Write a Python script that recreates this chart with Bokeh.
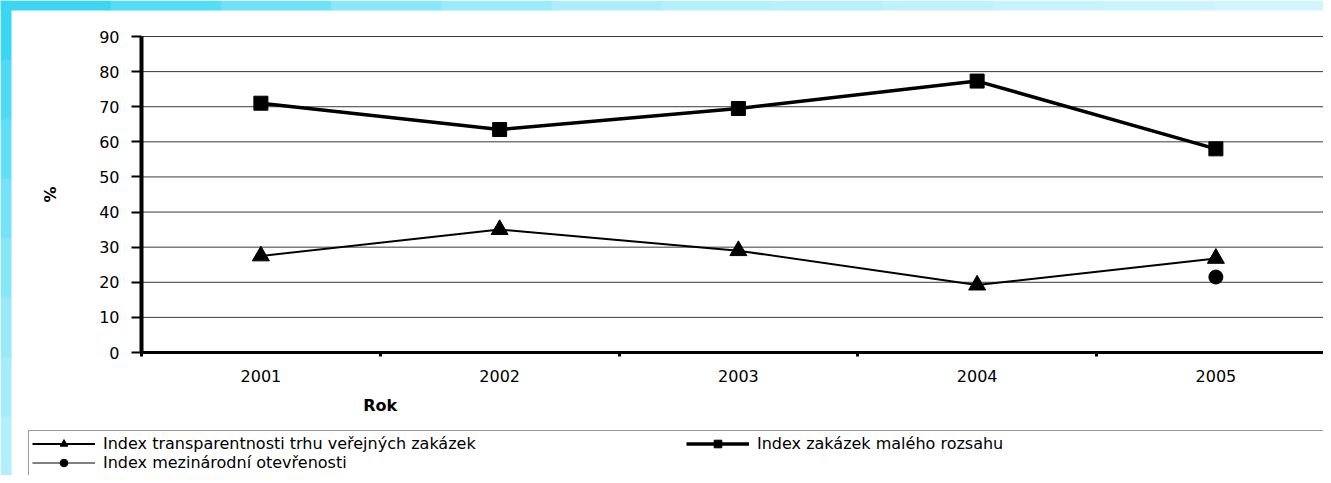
from bokeh.plotting import figure
from bokeh.models import Range1d, FixedTicker, Legend, LegendItem, Label, BoxAnnotation
from bokeh.embed import file_html
from bokeh.resources import INLINE

# ---- data ----
years = [2001, 2002, 2003, 2004, 2005]
transparency = [27.5, 35.0, 29.0, 19.2, 26.8]
small_contracts = [71.0, 63.5, 69.5, 77.3, 58.0]
openness_years = [2005]
openness = [21.5]
y_ticks = [0, 10, 20, 30, 40, 50, 60, 70, 80, 90]
series_names = [
    "Index transparentnosti trhu veřejných zakázek",
    "Index zakázek malého rozsahu",
    "Index mezinárodní otevřenosti",
]
x_title = "Rok"
y_title = "%"

# ---- layout (pixels) ----
W, H = 1323, 475
PLOT_LEFT, PLOT_TOP, PLOT_BOTTOM = 141, 36, 352
PX_PER_YEAR = 238.75
FONT = "DejaVu Sans"
FS = "16px"

# background frame strips (decoration colours, light cyan gradient)
top_strip_colors = ["#3ad6f3", "#55dcf6", "#70e2f8", "#8ae7fa", "#9cebfb", "#acedfb",
                    "#b4f0fc", "#b8f1fc", "#bff2fc", "#c6f3fd", "#ccf4fd", "#d2f5fd"]
left_strip_colors = ["#3ad6f3", "#4fdaf5", "#63def7", "#76e2f8", "#88e6f9", "#98e9fa",
                     "#a5ecfb", "#b0effc"]

y_min_v, y_max_v = y_ticks[0], y_ticks[-1]
px_per_unit = (PLOT_BOTTOM - PLOT_TOP) / (y_max_v - y_min_v)
x0 = years[0] - 0.5
x_start = x0 - PLOT_LEFT / PX_PER_YEAR
x_end = x0 + (W - PLOT_LEFT) / PX_PER_YEAR
y_start = y_min_v - (H - PLOT_BOTTOM) / px_per_unit
y_end = y_max_v + PLOT_TOP / px_per_unit
boundaries = [y - 0.5 for y in years] + [years[-1] + 0.5]

p = figure(width=W, height=H, output_backend="svg", toolbar_location=None,
           x_range=Range1d(x_start, x_end), y_range=Range1d(y_start, y_end),
           min_border=0)
p.background_fill_color = "white"
p.border_fill_color = "white"
p.outline_line_color = None
p.xgrid.visible = False
p.ygrid.visible = False

# cyan strips along the top and left edges
STRIP_TOP, STRIP_LEFT = 10, 11
n = len(top_strip_colors)
for i, c in enumerate(top_strip_colors):
    p.add_layout(BoxAnnotation(left=W * i / n, right=W * (i + 1) / n + 1,
                               bottom=H - STRIP_TOP, top=H,
                               left_units="screen", right_units="screen",
                               bottom_units="screen", top_units="screen",
                               fill_color=c, fill_alpha=1.0, line_color=None,
                               level="underlay"))
m = len(left_strip_colors)
for i, c in enumerate(left_strip_colors):
    p.add_layout(BoxAnnotation(left=0, right=STRIP_LEFT,
                               bottom=H - H * (i + 1) / m - 1, top=H - H * i / m,
                               left_units="screen", right_units="screen",
                               bottom_units="screen", top_units="screen",
                               fill_color=c, fill_alpha=1.0, line_color=None,
                               level="underlay"))

# horizontal gridlines restricted to the plot area
p.segment(x0=[x0] * len(y_ticks), y0=y_ticks, x1=[x_end] * len(y_ticks), y1=y_ticks,
          line_color="#3a3a3a", line_width=1)

# y axis
p.yaxis.fixed_location = x0
p.yaxis.bounds = (y_min_v, y_max_v)
p.yaxis.ticker = FixedTicker(ticks=y_ticks)
p.yaxis.axis_line_width = 4
p.yaxis.axis_line_color = "black"
p.yaxis.major_tick_out = 10
p.yaxis.major_tick_in = 0
p.yaxis.major_tick_line_width = 2
p.yaxis.minor_tick_line_color = None
p.yaxis.major_label_standoff = 12
p.yaxis.major_label_text_font = FONT
p.yaxis.major_label_text_font_size = FS
p.yaxis.major_label_text_color = "black"
p.yaxis.axis_label = y_title
p.yaxis.axis_label_text_font = FONT
p.yaxis.axis_label_text_font_style = "bold"
p.yaxis.axis_label_text_font_size = FS
p.yaxis.axis_label_text_color = "black"
p.yaxis.axis_label_standoff = 36

# x axis
p.xaxis.fixed_location = y_min_v
p.xaxis.bounds = (x0, x_end)
p.xaxis.ticker = FixedTicker(ticks=years, minor_ticks=boundaries)
p.xaxis.axis_line_width = 3
p.xaxis.axis_line_color = "black"
p.xaxis.major_tick_line_color = None
p.xaxis.major_tick_out = 0
p.xaxis.major_tick_in = 0
p.xaxis.minor_tick_line_color = "black"
p.xaxis.minor_tick_line_width = 3
p.xaxis.minor_tick_out = 4
p.xaxis.minor_tick_in = 0
p.xaxis.major_label_standoff = 13
p.xaxis.major_label_text_font = FONT
p.xaxis.major_label_text_font_size = FS
p.xaxis.major_label_text_color = "black"

# series
l1 = p.line(years, transparency, line_color="black", line_width=2)
s1 = p.scatter(years, transparency, marker="triangle", size=17,
               fill_color="black", line_color="black")
l2 = p.line(years, small_contracts, line_color="black", line_width=3.5)
s2 = p.scatter(years, small_contracts, marker="square", size=14,
               fill_color="black", line_color="black")
l3 = p.line(openness_years, openness, line_color="black", line_width=1)
s3 = p.scatter(openness_years, openness, marker="circle", size=14,
               fill_color="black", line_color="black")

# x axis title
rok = Label(x=boundaries[1], y=H - 395, x_units="data", y_units="screen",
            text=x_title, text_align="center", text_baseline="top",
            text_font=FONT, text_font_style="bold", text_font_size=FS,
            text_color="black")
p.add_layout(rok)

legend = Legend(
    items=[
        LegendItem(label=series_names[0], renderers=[l1, s1]),
        LegendItem(label=series_names[1], renderers=[l2, s2]),
        LegendItem(label=series_names[2], renderers=[l3, s3]),
    ],
    location=(28, -1), orientation="horizontal", ncols=2,
    glyph_width=63, glyph_height=19, label_height=19, label_width=583,
    label_standoff=8, spacing=0, padding=3, margin=0,
    label_text_font=FONT, label_text_font_size=FS, label_text_color="black",
    border_line_color="#333333", border_line_width=1,
    background_fill_color="white", background_fill_alpha=1.0,
)
p.add_layout(legend)

open("out.html", "w").write(file_html(p, INLINE))
